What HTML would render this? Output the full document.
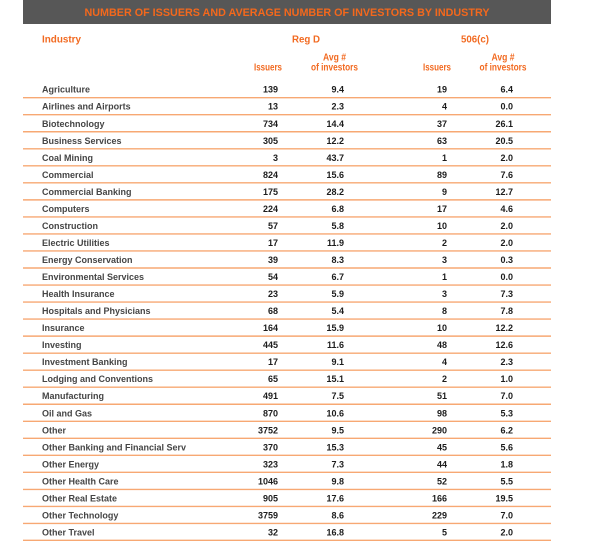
<!DOCTYPE html>
<html>
<head>
<meta charset="utf-8">
<style>
  html, body { margin: 0; padding: 0; background: #ffffff; }
  svg { display: block; }
  .t { font-family: "Liberation Sans", Arial, sans-serif; font-weight: bold; }
  .h { fill: #f26a21; font-size: 10px; }
  .lbl { fill: #454545; font-size: 9px; }
  .num { fill: #1c1c1c; font-size: 9px; text-anchor: end; }
</style>
</head>
<body>
<svg width="600" height="541" viewBox="0 0 600 541" xmlns="http://www.w3.org/2000/svg">
  <rect x="0" y="0" width="600" height="541" fill="#ffffff"/>
  <rect x="23" y="0" width="528" height="24" fill="#575757"/>
  <text class="t" x="287" y="15.8" text-anchor="middle" fill="#f4681c" font-size="11" textLength="405" lengthAdjust="spacingAndGlyphs">NUMBER OF ISSUERS AND AVERAGE NUMBER OF INVESTORS BY INDUSTRY</text>

  <text class="t h" x="42" y="42.3" textLength="39" lengthAdjust="spacingAndGlyphs">Industry</text>
  <text class="t h" x="292" y="42.3" textLength="28" lengthAdjust="spacingAndGlyphs">Reg D</text>
  <text class="t h" x="461" y="42.3" textLength="28" lengthAdjust="spacingAndGlyphs">506(c)</text>

  <text class="t h" x="254" y="70.5" font-size="8.4" textLength="28" lengthAdjust="spacingAndGlyphs">Issuers</text>
  <text class="t h" x="323" y="60.7" font-size="8.4" textLength="23" lengthAdjust="spacingAndGlyphs">Avg #</text>
  <text class="t h" x="311" y="70.5" font-size="8.4" textLength="47" lengthAdjust="spacingAndGlyphs">of investors</text>
  <text class="t h" x="423" y="70.5" font-size="8.4" textLength="28" lengthAdjust="spacingAndGlyphs">Issuers</text>
  <text class="t h" x="491.5" y="60.7" font-size="8.4" textLength="23" lengthAdjust="spacingAndGlyphs">Avg #</text>
  <text class="t h" x="479.5" y="70.5" font-size="8.4" textLength="47" lengthAdjust="spacingAndGlyphs">of investors</text>

  <g stroke="#f7a873" stroke-width="1.4">
    <line x1="23" x2="551" y1="97.7" y2="97.7"/>
    <line x1="23" x2="551" y1="114.73" y2="114.73"/>
    <line x1="23" x2="551" y1="131.76" y2="131.76"/>
    <line x1="23" x2="551" y1="148.79" y2="148.79"/>
    <line x1="23" x2="551" y1="165.82" y2="165.82"/>
    <line x1="23" x2="551" y1="182.85" y2="182.85"/>
    <line x1="23" x2="551" y1="199.88" y2="199.88"/>
    <line x1="23" x2="551" y1="216.91" y2="216.91"/>
    <line x1="23" x2="551" y1="233.94" y2="233.94"/>
    <line x1="23" x2="551" y1="250.97" y2="250.97"/>
    <line x1="23" x2="551" y1="268.0" y2="268.0"/>
    <line x1="23" x2="551" y1="285.03" y2="285.03"/>
    <line x1="23" x2="551" y1="302.06" y2="302.06"/>
    <line x1="23" x2="551" y1="319.09" y2="319.09"/>
    <line x1="23" x2="551" y1="336.12" y2="336.12"/>
    <line x1="23" x2="551" y1="353.15" y2="353.15"/>
    <line x1="23" x2="551" y1="370.18" y2="370.18"/>
    <line x1="23" x2="551" y1="387.21" y2="387.21"/>
    <line x1="23" x2="551" y1="404.24" y2="404.24"/>
    <line x1="23" x2="551" y1="421.27" y2="421.27"/>
    <line x1="23" x2="551" y1="438.3" y2="438.3"/>
    <line x1="23" x2="551" y1="455.33" y2="455.33"/>
    <line x1="23" x2="551" y1="472.36" y2="472.36"/>
    <line x1="23" x2="551" y1="489.39" y2="489.39"/>
    <line x1="23" x2="551" y1="506.42" y2="506.42"/>
    <line x1="23" x2="551" y1="523.45" y2="523.45"/>
    <line x1="23" x2="551" y1="540.3" y2="540.3"/>
  </g>

  <g class="t">
    <text class="lbl" x="42" y="92.7">Agriculture</text>
    <text class="num" x="278" y="92.7">139</text><text class="num" x="344" y="92.7">9.4</text><text class="num" x="447" y="92.7">19</text><text class="num" x="513" y="92.7">6.4</text>

    <text class="lbl" x="42" y="109.73">Airlines and Airports</text>
    <text class="num" x="278" y="109.73">13</text><text class="num" x="344" y="109.73">2.3</text><text class="num" x="447" y="109.73">4</text><text class="num" x="513" y="109.73">0.0</text>

    <text class="lbl" x="42" y="126.76">Biotechnology</text>
    <text class="num" x="278" y="126.76">734</text><text class="num" x="344" y="126.76">14.4</text><text class="num" x="447" y="126.76">37</text><text class="num" x="513" y="126.76">26.1</text>

    <text class="lbl" x="42" y="143.79">Business Services</text>
    <text class="num" x="278" y="143.79">305</text><text class="num" x="344" y="143.79">12.2</text><text class="num" x="447" y="143.79">63</text><text class="num" x="513" y="143.79">20.5</text>

    <text class="lbl" x="42" y="160.82">Coal Mining</text>
    <text class="num" x="278" y="160.82">3</text><text class="num" x="344" y="160.82">43.7</text><text class="num" x="447" y="160.82">1</text><text class="num" x="513" y="160.82">2.0</text>

    <text class="lbl" x="42" y="177.85">Commercial</text>
    <text class="num" x="278" y="177.85">824</text><text class="num" x="344" y="177.85">15.6</text><text class="num" x="447" y="177.85">89</text><text class="num" x="513" y="177.85">7.6</text>

    <text class="lbl" x="42" y="194.88">Commercial Banking</text>
    <text class="num" x="278" y="194.88">175</text><text class="num" x="344" y="194.88">28.2</text><text class="num" x="447" y="194.88">9</text><text class="num" x="513" y="194.88">12.7</text>

    <text class="lbl" x="42" y="211.91">Computers</text>
    <text class="num" x="278" y="211.91">224</text><text class="num" x="344" y="211.91">6.8</text><text class="num" x="447" y="211.91">17</text><text class="num" x="513" y="211.91">4.6</text>

    <text class="lbl" x="42" y="228.94">Construction</text>
    <text class="num" x="278" y="228.94">57</text><text class="num" x="344" y="228.94">5.8</text><text class="num" x="447" y="228.94">10</text><text class="num" x="513" y="228.94">2.0</text>

    <text class="lbl" x="42" y="245.97">Electric Utilities</text>
    <text class="num" x="278" y="245.97">17</text><text class="num" x="344" y="245.97">11.9</text><text class="num" x="447" y="245.97">2</text><text class="num" x="513" y="245.97">2.0</text>

    <text class="lbl" x="42" y="263.0">Energy Conservation</text>
    <text class="num" x="278" y="263.0">39</text><text class="num" x="344" y="263.0">8.3</text><text class="num" x="447" y="263.0">3</text><text class="num" x="513" y="263.0">0.3</text>

    <text class="lbl" x="42" y="280.03">Environmental Services</text>
    <text class="num" x="278" y="280.03">54</text><text class="num" x="344" y="280.03">6.7</text><text class="num" x="447" y="280.03">1</text><text class="num" x="513" y="280.03">0.0</text>

    <text class="lbl" x="42" y="297.06">Health Insurance</text>
    <text class="num" x="278" y="297.06">23</text><text class="num" x="344" y="297.06">5.9</text><text class="num" x="447" y="297.06">3</text><text class="num" x="513" y="297.06">7.3</text>

    <text class="lbl" x="42" y="314.09">Hospitals and Physicians</text>
    <text class="num" x="278" y="314.09">68</text><text class="num" x="344" y="314.09">5.4</text><text class="num" x="447" y="314.09">8</text><text class="num" x="513" y="314.09">7.8</text>

    <text class="lbl" x="42" y="331.12">Insurance</text>
    <text class="num" x="278" y="331.12">164</text><text class="num" x="344" y="331.12">15.9</text><text class="num" x="447" y="331.12">10</text><text class="num" x="513" y="331.12">12.2</text>

    <text class="lbl" x="42" y="348.15">Investing</text>
    <text class="num" x="278" y="348.15">445</text><text class="num" x="344" y="348.15">11.6</text><text class="num" x="447" y="348.15">48</text><text class="num" x="513" y="348.15">12.6</text>

    <text class="lbl" x="42" y="365.18">Investment Banking</text>
    <text class="num" x="278" y="365.18">17</text><text class="num" x="344" y="365.18">9.1</text><text class="num" x="447" y="365.18">4</text><text class="num" x="513" y="365.18">2.3</text>

    <text class="lbl" x="42" y="382.21">Lodging and Conventions</text>
    <text class="num" x="278" y="382.21">65</text><text class="num" x="344" y="382.21">15.1</text><text class="num" x="447" y="382.21">2</text><text class="num" x="513" y="382.21">1.0</text>

    <text class="lbl" x="42" y="399.24">Manufacturing</text>
    <text class="num" x="278" y="399.24">491</text><text class="num" x="344" y="399.24">7.5</text><text class="num" x="447" y="399.24">51</text><text class="num" x="513" y="399.24">7.0</text>

    <text class="lbl" x="42" y="416.27">Oil and Gas</text>
    <text class="num" x="278" y="416.27">870</text><text class="num" x="344" y="416.27">10.6</text><text class="num" x="447" y="416.27">98</text><text class="num" x="513" y="416.27">5.3</text>

    <text class="lbl" x="42" y="433.3">Other</text>
    <text class="num" x="278" y="433.3">3752</text><text class="num" x="344" y="433.3">9.5</text><text class="num" x="447" y="433.3">290</text><text class="num" x="513" y="433.3">6.2</text>

    <text class="lbl" x="42" y="450.33">Other Banking and Financial Serv</text>
    <text class="num" x="278" y="450.33">370</text><text class="num" x="344" y="450.33">15.3</text><text class="num" x="447" y="450.33">45</text><text class="num" x="513" y="450.33">5.6</text>

    <text class="lbl" x="42" y="467.36">Other Energy</text>
    <text class="num" x="278" y="467.36">323</text><text class="num" x="344" y="467.36">7.3</text><text class="num" x="447" y="467.36">44</text><text class="num" x="513" y="467.36">1.8</text>

    <text class="lbl" x="42" y="484.39">Other Health Care</text>
    <text class="num" x="278" y="484.39">1046</text><text class="num" x="344" y="484.39">9.8</text><text class="num" x="447" y="484.39">52</text><text class="num" x="513" y="484.39">5.5</text>

    <text class="lbl" x="42" y="501.42">Other Real Estate</text>
    <text class="num" x="278" y="501.42">905</text><text class="num" x="344" y="501.42">17.6</text><text class="num" x="447" y="501.42">166</text><text class="num" x="513" y="501.42">19.5</text>

    <text class="lbl" x="42" y="518.45">Other Technology</text>
    <text class="num" x="278" y="518.45">3759</text><text class="num" x="344" y="518.45">8.6</text><text class="num" x="447" y="518.45">229</text><text class="num" x="513" y="518.45">7.0</text>

    <text class="lbl" x="42" y="535.48">Other Travel</text>
    <text class="num" x="278" y="535.48">32</text><text class="num" x="344" y="535.48">16.8</text><text class="num" x="447" y="535.48">5</text><text class="num" x="513" y="535.48">2.0</text>
  </g>
</svg>
</body>
</html>
